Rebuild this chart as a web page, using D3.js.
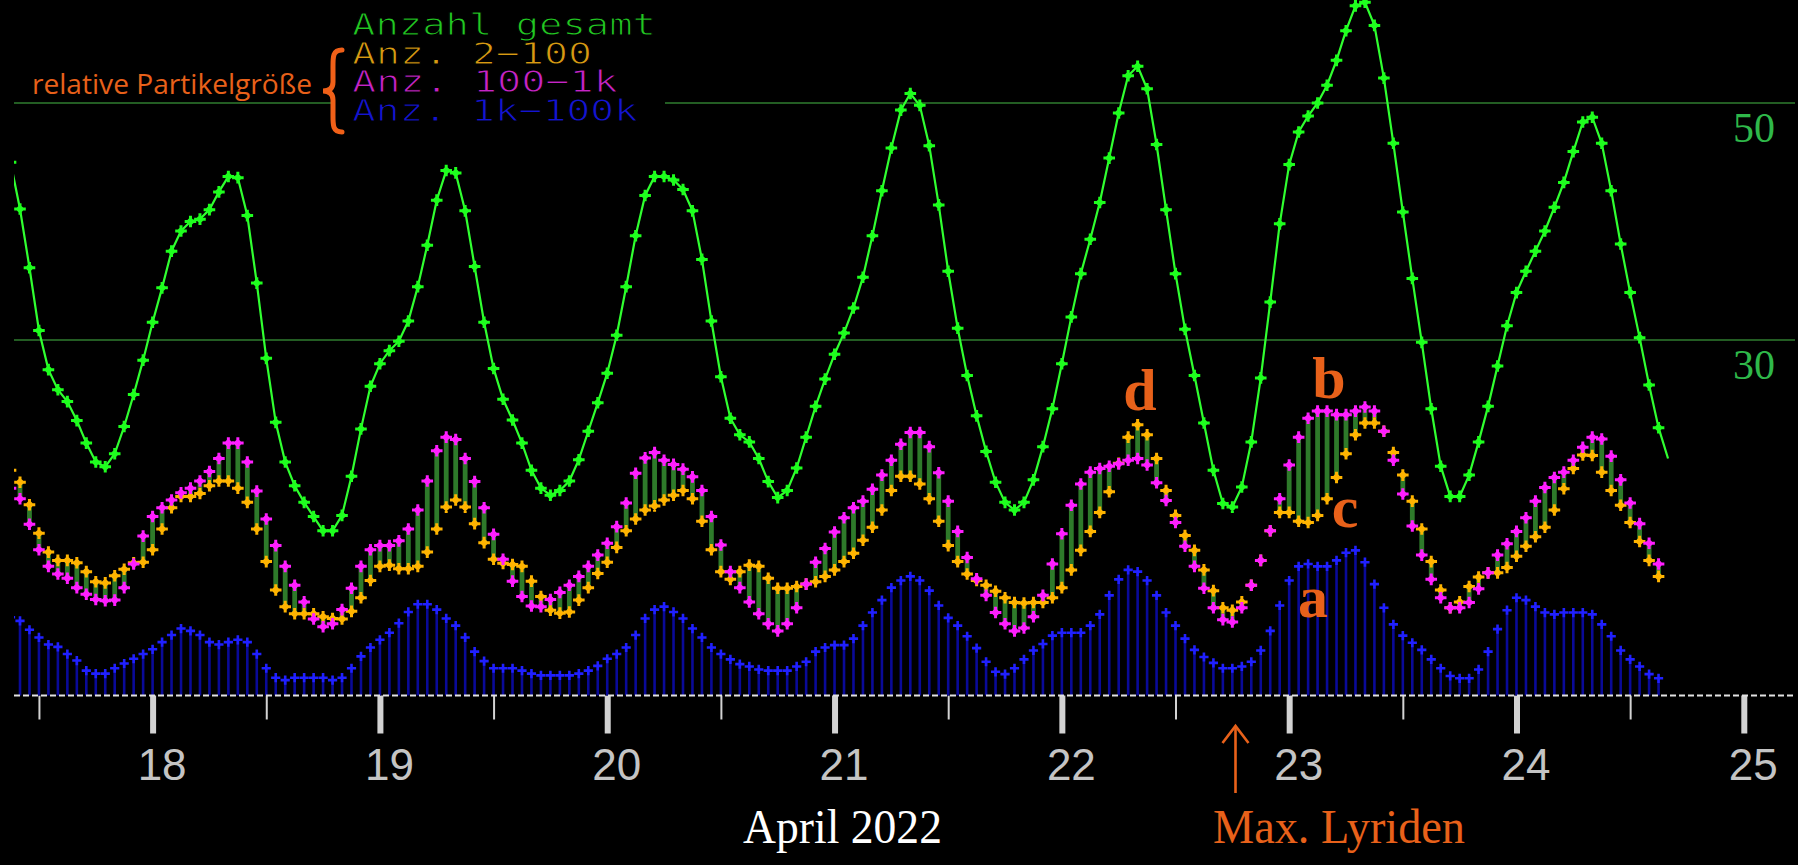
<!DOCTYPE html>
<html>
<head>
<meta charset="utf-8">
<script src="https://cdn.jsdelivr.net/npm/d3@7"></script>
<style>
  html, body { margin: 0; background: #000; overflow: hidden; }
</style>
</head>
<body>
<div id="chart"></div>
<script>
// hourly samples, first one at 17 April 2022 09:00 (partly outside the plot on the left)
const startTime = Date.UTC(2022, 3, 17, 9);

// Anzahl gesamt (17.4. 09h ... 24.4. 16h)
const gesamt = [
  45.0, 41.05, 36.1, 30.8, 27.5, 25.8, 24.8, 23.2, 21.3, 19.7, 19.3, 20.4, 22.7, 25.4, 28.3,
  31.5, 34.4, 37.5, 39.2, 40.0, 40.2, 41.0, 42.5, 43.8, 43.7, 40.5, 34.8, 28.45, 23.05, 19.7, 17.7, 16.3, 15.1, 13.9, 13.9, 15.2, 18.5, 22.5, 26.1,
  28.0, 29.1, 29.9, 31.6, 34.5, 38.0, 41.8, 44.3, 44.1, 40.9, 36.2, 31.5, 27.6, 25.0, 23.25, 21.3, 19.0, 17.5, 16.9, 17.3, 18.1, 19.9, 22.3, 24.7,
  27.2, 30.4, 34.5, 38.8, 42.2, 43.8, 43.8, 43.5, 42.7, 40.9, 36.8, 31.6, 26.9, 23.4, 22.0, 21.4, 20.0, 18.05, 16.7, 17.3, 19.2, 21.8, 24.4, 26.7,
  28.8, 30.6, 32.7, 35.3, 38.8, 42.6, 46.2, 49.4, 50.8, 49.8, 46.4, 41.4, 35.8, 31.0, 27.0, 23.6, 20.6, 18.0, 16.3, 15.65, 16.3, 18.2, 21.0, 24.2,
  28.0, 31.95, 35.6, 38.5, 41.6, 45.35, 49.15, 52.3, 53.1, 51.2, 46.5, 41.0, 35.6, 30.9, 27.0, 23.0, 19.0, 16.2, 15.9, 17.6, 21.4, 26.8, 33.2, 39.8,
  44.8, 47.55, 48.9, 50.0, 51.5, 53.6, 56.1, 58.2, 58.5, 56.55, 52.1, 46.6, 40.8, 35.2, 29.8, 24.2, 19.35, 16.8, 16.8, 18.6, 21.4, 24.4, 27.8, 31.2,
  34.0, 35.8, 37.5, 39.2, 41.2, 43.3, 45.9, 48.4, 48.8, 46.6, 42.6, 38.1, 34.0, 30.2, 26.2, 22.6, 20.0,
];

// Anz. 2-100
const anz2to100 = [
  19.0, 18.0, 16.1, 13.7, 12.1, 11.4, 11.4, 11.2, 10.45, 9.6, 9.5, 10.1, 10.65, 11.2, 11.25,
  12.3, 14.05, 15.85, 16.8, 16.8, 17.05, 17.7, 18.1, 18.1, 17.5, 16.3, 14.05, 11.3, 8.9, 7.5, 6.9, 6.9, 6.9, 6.65, 6.5, 6.45, 7.1, 8.25, 9.7,
  10.9, 11.0, 10.7, 10.7, 10.9, 12.1, 14.05, 15.9, 16.5, 15.9, 14.5, 12.9, 11.5, 11.15, 11.05, 10.9, 9.65, 8.35, 7.2, 6.95, 7.05, 8.05, 9.1, 10.3,
  11.25, 12.5, 13.9, 14.9, 15.65, 16.0, 16.5, 16.9, 17.3, 16.6, 14.7, 12.3, 10.45, 9.8, 10.45, 11.0, 10.9, 9.9, 9.05, 9.05, 9.2, 9.4, 9.6, 10.05,
  10.6, 11.3, 12.0, 13.1, 14.2, 15.65, 17.3, 18.5, 18.5, 17.85, 16.6, 14.7, 12.65, 11.3, 10.25, 9.7, 9.3, 8.8, 8.25, 7.85, 7.8, 7.85, 7.85, 8.25,
  9.1, 10.6, 12.25, 13.85, 15.45, 17.2, 19.6, 21.8, 22.85, 22.0, 20.0, 17.3, 15.2, 13.5, 12.25, 10.6, 8.85, 7.4, 7.2, 7.9, 9.3, 11.4, 13.9, 15.45,
  15.45, 14.7, 14.6, 15.2, 16.6, 18.4, 20.4, 22.0, 23.0, 23.0, 22.3, 20.5, 18.6, 16.4, 14.05, 11.3, 8.9, 7.4, 7.9, 9.2, 10.0, 10.35, 10.35, 10.8,
  11.75, 12.6, 13.4, 14.2, 15.65, 17.45, 19.15, 20.3, 20.25, 18.85, 17.3, 16.05, 14.6, 13.0, 11.4, 10.05,
];

// Anz. 100-1k
const anz100to1k = [
  17.5, 16.6, 14.45, 12.3, 10.9, 10.25, 9.9, 9.1, 8.55, 8.1, 8.0, 8.05, 9.1, 11.1, 13.45,
  15.1, 15.85, 16.5, 17.1, 17.5, 18.1, 18.9, 20.0, 21.3, 21.3, 19.7, 17.25, 14.9, 12.65, 10.9, 9.3, 7.9, 6.45, 5.8, 6.05, 7.25, 9.05, 10.9, 12.3,
  12.65, 12.65, 13.05, 14.05, 15.65, 18.1, 20.65, 21.8, 21.6, 20.0, 18.05, 15.85, 13.6, 11.5, 9.65, 8.35, 7.55, 7.5, 8.1, 8.7, 9.3, 10.05, 10.9, 11.85,
  12.85, 14.25, 16.25, 18.75, 20.05, 20.5, 19.85, 19.5, 19.1, 18.45, 17.3, 15.1, 12.7, 10.45, 9.1, 7.9, 6.9, 6.05, 5.45, 6.05, 7.4, 9.4, 11.25, 12.4,
  13.8, 15.0, 15.85, 16.4, 17.4, 18.6, 19.85, 21.2, 22.2, 22.2, 21.0, 18.8, 16.4, 13.85, 11.65, 9.85, 8.45, 7.0, 6.05, 5.45, 5.7, 6.65, 8.45, 11.1,
  13.65, 16.05, 17.85, 18.85, 19.15, 19.35, 19.55, 19.85, 20.0, 19.45, 17.95, 16.45, 14.6, 12.6, 10.9, 9.05, 7.4, 6.4, 6.2, 7.4, 9.3, 11.4, 13.9, 16.6,
  19.45, 21.8, 23.4, 24.0, 24.0, 23.7, 23.7, 24.0, 24.35, 24.0, 22.3, 19.85, 17.0, 14.3, 11.85, 9.8, 8.25, 7.4, 7.4, 7.85, 9.0, 10.35, 11.85, 12.8,
  13.85, 15.0, 16.4, 17.55, 18.4, 18.85, 19.85, 20.95, 21.8, 21.65, 20.2, 18.2, 16.25, 14.5, 12.85, 11.1,
];

// Anz. 1k-100k
const anz1kto100k = [
  6.6, 6.3, 5.55, 4.9, 4.3, 4.1, 3.5, 2.95, 2.1, 1.85, 1.85, 2.3, 2.7, 3.1, 3.5,
  3.9, 4.5, 5.1, 5.65, 5.45, 5.1, 4.5, 4.3, 4.5, 4.7, 4.5, 3.5, 2.3, 1.5, 1.3, 1.5, 1.5, 1.5, 1.5, 1.3, 1.5, 2.3, 3.3, 4.05,
  4.7, 5.3, 6.1, 7.05, 7.7, 7.7, 7.25, 6.5, 5.9, 4.9, 3.7, 2.9, 2.3, 2.3, 2.3, 2.1, 1.85, 1.7, 1.7, 1.7, 1.7, 1.85, 2.1, 2.5,
  3.1, 3.5, 4.05, 5.1, 6.5, 7.25, 7.5, 7.05, 6.5, 5.65, 4.9, 4.05, 3.5, 3.05, 2.65, 2.45, 2.2, 2.1, 2.1, 2.1, 2.45, 2.85, 3.7, 4.05,
  4.25, 4.25, 4.8, 5.9, 7.0, 8.05, 9.1, 9.7, 10.05, 9.7, 8.85, 7.6, 6.55, 5.9, 5.0, 4.0, 2.85, 2.0, 1.8, 2.3, 3.05, 3.8, 4.35, 5.05,
  5.3, 5.3, 5.3, 5.9, 6.85, 8.45, 9.8, 10.6, 10.45, 9.7, 8.45, 7.0, 5.9, 4.8, 3.85, 3.25, 2.75, 2.3, 2.3, 2.45, 2.85, 3.8, 5.45, 7.6,
  9.7, 10.9, 11.1, 10.9, 10.9, 11.4, 12.05, 12.25, 11.25, 9.4, 7.4, 6.0, 5.05, 4.45, 3.85, 3.05, 2.3, 1.65, 1.45, 1.45, 2.2, 3.7, 5.6, 7.2,
  8.25, 8.05, 7.5, 7.0, 6.85, 7.0, 7.0, 7.0, 6.85, 6.0, 5.0, 3.8, 3.05, 2.45, 1.8, 1.45,
];

const dayTicks = [18, 19, 20, 21, 22, 23, 24, 25];
const halfDayTicks = [17, 18, 19, 20, 21, 22, 23, 24];
const gridValues = [30, 50];
const legendItems = [
  { label: 'Anzahl gesamt', color: '#22c822', len: 304 },
  { label: 'Anz. 2\u2212100', color: '#d89a12', len: 240 },
  { label: 'Anz. 100\u22121k', color: '#c624c6', len: 266 },
  { label: 'Anz. 1k\u2212100k', color: '#1414d2', len: 286 },
];
const lyridenMax = Date.UTC(2022, 3, 22, 18, 20);

const W = 1798, H = 865;
const left = 14, right = 1795;
const ORANGE = '#e8611a';

const hour = (i) => new Date(startTime + i * 3600e3);

const x = d3.scaleUtc()
  .domain([new Date(Date.UTC(2022, 3, 18)), new Date(Date.UTC(2022, 3, 25))])
  .range([152.6, 1743.8]);
const y = d3.scaleLinear().domain([0, 50]).range([695.5, 103]);

const svg = d3.select('#chart').append('svg').attr('width', W).attr('height', H)
  .style('display', 'block').style('background', '#000');

svg.append('clipPath').attr('id', 'plotclip')
  .append('rect').attr('x', left).attr('y', 0).attr('width', right - left).attr('height', 702);

// horizontal grid lines
svg.selectAll('line.grid').data(gridValues).join('line')
  .attr('class', 'grid')
  .attr('x1', left).attr('x2', right)
  .attr('y1', (d) => y(d)).attr('y2', (d) => y(d))
  .attr('stroke', '#2f7d2f').attr('stroke-width', 1.6);

// right value labels
svg.selectAll('text.ylab').data(gridValues).join('text')
  .attr('class', 'ylab')
  .attr('x', 1754).attr('y', (d) => y(d) + 39)
  .attr('text-anchor', 'middle')
  .attr('font-family', '"Liberation Serif", "DejaVu Serif", serif')
  .attr('font-size', 42).attr('fill', '#2fb84a')
  .text((d) => d);

// x axis: minor ticks at noon, major at midnight
const minorAxis = d3.axisBottom(x)
  .tickValues(halfDayTicks.map((d) => new Date(Date.UTC(2022, 3, d, 12))))
  .tickSize(24).tickFormat('');
const gMinor = svg.append('g').attr('transform', `translate(0,${y(0)})`).call(minorAxis);
gMinor.select('.domain').remove();
gMinor.selectAll('.tick line').attr('stroke', '#d2d2d2').attr('stroke-width', 2);

const majorAxis = d3.axisBottom(x)
  .tickValues(dayTicks.map((d) => new Date(Date.UTC(2022, 3, d))))
  .tickSize(38).tickPadding(15)
  .tickFormat(d3.utcFormat('%-d'));
const gMajor = svg.append('g').attr('transform', `translate(0,${y(0)})`).call(majorAxis);
gMajor.select('.domain').remove();
gMajor.selectAll('.tick line').attr('stroke', '#d2d2d2').attr('stroke-width', 6);
gMajor.selectAll('.tick text')
  .attr('dx', 9)
  .attr('font-family', '"Liberation Sans", Arial, sans-serif')
  .attr('font-size', 44).attr('fill', '#c4c4c4');

const plot = svg.append('g').attr('clip-path', 'url(#plotclip)');

// blue stems for the largest particles
const blue = anz1kto100k.map((v, i) => ({ t: hour(i), v }));
plot.append('g').selectAll('line').data(blue).join('line')
  .attr('x1', (d) => x(d.t)).attr('x2', (d) => x(d.t))
  .attr('y1', y(0)).attr('y2', (d) => y(d.v))
  .attr('stroke', '#0a0a98').attr('stroke-width', 2.6);

// dashed zero line
svg.append('line')
  .attr('x1', left).attr('x2', right).attr('y1', y(0)).attr('y2', y(0))
  .attr('stroke', '#e2e2e2').attr('stroke-width', 2).attr('stroke-dasharray', '6,3');

const plus = 'M-1.3,-4.6H1.3V4.6H-1.3Z M-4.6,-1.3H4.6V1.3H-4.6Z';
const star = 'M0,-4.6L4.6,0L0,4.6L-4.6,0Z M-1.5,-5.8H1.5V5.8H-1.5Z M-5.8,-1.5H5.8V1.5H-5.8Z';

plot.append('g').selectAll('path').data(blue).join('path')
  .attr('transform', (d) => `translate(${x(d.t)},${y(d.v)})`)
  .attr('d', plus).attr('fill', '#2020ff');

// green bars between the two middle size classes
const mid = anz2to100.map((v, i) => ({ t: hour(i), o: v, m: anz100to1k[i] }));
plot.append('g').selectAll('rect').data(mid.filter((d) => d.o !== d.m)).join('rect')
  .attr('x', (d) => x(d.t) - 2.4).attr('width', 4.8)
  .attr('y', (d) => y(Math.max(d.o, d.m)))
  .attr('height', (d) => Math.abs(y(d.o) - y(d.m)))
  .attr('fill', '#2e7a2a');

plot.append('g').selectAll('path').data(mid).join('path')
  .attr('transform', (d) => `translate(${x(d.t)},${y(d.o)})`)
  .attr('d', star).attr('fill', '#ffb400');

plot.append('g').selectAll('path').data(mid).join('path')
  .attr('transform', (d) => `translate(${x(d.t)},${y(d.m)})`)
  .attr('d', star).attr('fill', '#ff1eff');

// total count line
const total = gesamt.map((v, i) => ({ t: hour(i), v }));
plot.append('path').datum(total)
  .attr('fill', 'none').attr('stroke', '#30ff30').attr('stroke-width', 2.2)
  .attr('d', d3.line().x((d) => x(d.t)).y((d) => y(d.v)));

plot.append('g').selectAll('path').data(total.slice(0, -1)).join('path')
  .attr('transform', (d) => `translate(${x(d.t)},${y(d.v)})`)
  .attr('d', star).attr('fill', '#1eff1e');

// legend block (covers the 50 grid line)
svg.append('rect').attr('x', 333).attr('y', 0).attr('width', 332).attr('height', 148).attr('fill', '#000');
svg.selectAll('text.leg').data(legendItems).join('text')
  .attr('class', 'leg')
  .attr('x', 352).attr('y', (d, i) => 35 + i * 28.5)
  .attr('font-family', '"DejaVu Sans Mono", monospace')
  .attr('font-size', 31)
  .attr('textLength', (d) => d.len).attr('lengthAdjust', 'spacingAndGlyphs')
  .attr('fill', (d) => d.color)
  .attr('stroke', '#000').attr('stroke-width', 1)
  .text((d) => d.label);

svg.append('text')
  .attr('x', 32).attr('y', 94)
  .attr('font-family', '"Open Sans", "Noto Sans", sans-serif')
  .attr('font-size', 27).attr('fill', ORANGE)
  .attr('textLength', 280).attr('lengthAdjust', 'spacingAndGlyphs')
  .text('relative Partikelgröße');

svg.append('path')
  .attr('d', 'M342,50 C332,50 333,58 333,70 L333,82 C333,88 330,91 323,91 C330,91 333,94 333,100 L333,112 C333,124 332,132 342,132')
  .attr('fill', 'none').attr('stroke', '#f06018').attr('stroke-width', 5).attr('stroke-linecap', 'round');

// annotations
const notes = [
  { s: 'd', x: 1140, y: 410 },
  { s: 'b', x: 1329, y: 398 },
  { s: 'c', x: 1345, y: 527 },
  { s: 'a', x: 1313, y: 617 },
];
svg.selectAll('text.note').data(notes).join('text')
  .attr('class', 'note')
  .attr('x', (d) => d.x).attr('y', (d) => d.y)
  .attr('text-anchor', 'middle')
  .attr('font-family', '"Liberation Serif", "DejaVu Serif", serif')
  .attr('font-weight', 700).attr('font-size', 60).attr('fill', ORANGE)
  .text((d) => d.s);

svg.append('text')
  .attr('x', 743).attr('y', 843)
  .attr('font-family', '"Liberation Serif", "DejaVu Serif", serif')
  .attr('font-size', 48).attr('fill', '#fff')
  .attr('textLength', 199).attr('lengthAdjust', 'spacingAndGlyphs')
  .text('April 2022');

svg.append('text')
  .attr('x', 1213).attr('y', 843)
  .attr('font-family', '"Liberation Serif", "DejaVu Serif", serif')
  .attr('font-size', 48).attr('fill', ORANGE)
  .attr('textLength', 252).attr('lengthAdjust', 'spacingAndGlyphs')
  .text('Max. Lyriden');

const ax = x(new Date(lyridenMax));
svg.append('line')
  .attr('x1', ax).attr('x2', ax).attr('y1', 793).attr('y2', 727)
  .attr('stroke', ORANGE).attr('stroke-width', 2.6);
svg.append('path')
  .attr('d', `M${ax - 13},${743} L${ax},${726} L${ax + 13},${743}`)
  .attr('fill', 'none').attr('stroke', ORANGE).attr('stroke-width', 2.6);
</script>
</body>
</html>
